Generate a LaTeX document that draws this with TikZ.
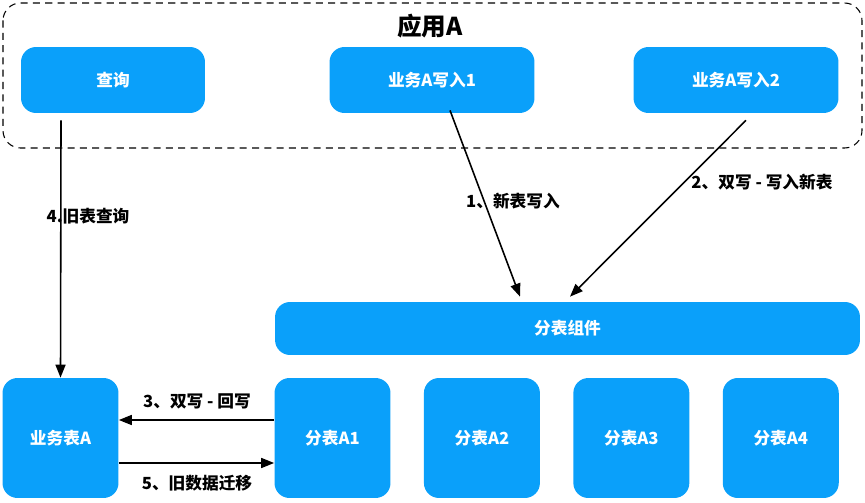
\documentclass[tikz,border=0pt]{standalone}
\usepackage{fontspec}
\setmainfont{Noto Sans CJK SC}
\usepackage{tikz}
\usetikzlibrary{arrows.meta, positioning}
\definecolor{boxblue}{RGB}{10,160,250}

\begin{document}
\begin{tikzpicture}[x=0.02cm, y=-0.02cm, node distance=0.655cm,
        blk/.style={fill=boxblue, text=white, rounded corners=0.3cm, font=\fontsize{9.5}{11}\selectfont\bfseries, inner sep=0pt},
        appbox/.style={blk, minimum width=4.1cm, minimum height=1.32cm},
        tbl/.style={blk, minimum width=2.32cm, minimum height=2.4cm},
        lbl/.style={font=\fontsize{9.5}{11}\selectfont\bfseries, inner sep=1pt},
        arr/.style={-{Triangle[length=0.26cm, width=0.2cm]}, line width=0.9pt}]
        \useasboundingbox (0,0) rectangle (865,503);

        % application A
        \draw[dash pattern=on 4pt off 3pt, line width=0.6pt, rounded corners=0.35cm] (3,3) rectangle (862,148);
        \node[font=\fontsize{14}{16}\selectfont\bfseries] (app) at (430,26) {应用A};
        \node[appbox, minimum width=3.68cm] (query) at (113,80) {查询};
        \node[appbox] (w1) at (432,80) {业务A写入1};
        \node[appbox] (w2) at (736,80) {业务A写入2};

        % sharding
        \node[blk, minimum width=11.7cm, minimum height=1.06cm] (comp) at (567.5,328.5) {分表组件};
        \node[tbl] (tbA) at (60.5,438) {业务表A};
        \node[tbl] (a1) at (332.5,438) {分表A1};
        \node[tbl, right=of a1] (a2) {分表A2};
        \node[tbl, right=of a2] (a3) {分表A3};
        \node[tbl, right=of a3] (a4) {分表A4};

        \draw[arr] ([xshift=-1.04cm,yshift=-0.14cm]query.south) -- (tbA.north);
        \draw[arr] ([xshift=0.36cm,yshift=0.06cm]w1.south) -- ([xshift=-0.95cm,yshift=0.1cm]comp.north);
        \draw[arr] ([xshift=0.2cm,yshift=-0.14cm]w2.south) -- ([xshift=0.05cm,yshift=0.1cm]comp.north);
        \draw[arr] ([yshift=0.36cm]a1.west) -- ([yshift=0.36cm]tbA.east);
        \draw[arr] ([yshift=-0.5cm]tbA.east) -- ([yshift=-0.5cm]a1.west);

        \node[lbl] (l4) at (88,216) {4.旧表查询};
        \node[lbl] (l1) at (513,201) {1、新表写入};
        \node[lbl] (l2) at (762,182) {2、双写 - 写入新表};
        \node[lbl] (l3) at (197,401) {3、双写 - 回写};
        \node[lbl] (l5) at (197,483) {5、旧数据迁移};
    \end{tikzpicture}
\end{document}
